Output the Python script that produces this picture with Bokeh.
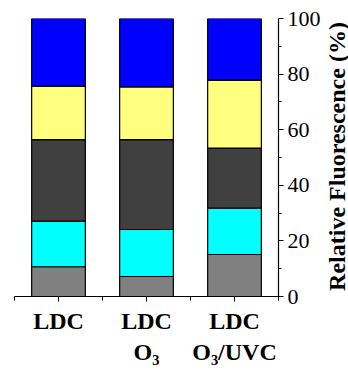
import math
from bokeh.plotting import figure
from bokeh.layouts import row
from bokeh.models import ColumnDataSource, LinearAxis, FixedTicker, Range1d, Label
from bokeh.embed import file_html
from bokeh.resources import INLINE

categories = ["LDC", "LDC\nO\u2083", "LDC\nO\u2083/UVC"]
positions = [0.5, 1.5, 2.5]
comp1 = [10.7, 7.2, 15.1]   # gray
comp2 = [16.4, 16.9, 16.7]  # cyan
comp3 = [29.3, 32.3, 21.6]  # dark gray
comp4 = [19.3, 19.0, 24.4]  # yellow
comp5 = [24.3, 24.6, 22.2]  # blue
colors = ["#808080", "#00FFFF", "#404040", "#FFFF80", "#0000FF"]
stack_names = ["c1", "c2", "c3", "c4", "c5"]
y_ticks = [0, 20, 40, 60, 80, 100]
y_minor = [10, 30, 50, 70, 90]
y_title = "Relative Fluorescence (%)"

src = ColumnDataSource(dict(x=positions, c1=comp1, c2=comp2, c3=comp3, c4=comp4, c5=comp5))

p = figure(frame_width=264, frame_height=278, output_backend="svg", toolbar_location=None,
           x_range=Range1d(0, 3), y_range=Range1d(0, 100),
           min_border_left=14, min_border_top=18, min_border_right=44, min_border_bottom=4,
           x_axis_location=None, y_axis_location=None)
p.outline_line_color = None
p.grid.visible = False
p.background_fill_color = "white"

p.vbar_stack(stack_names, x="x", width=0.61, source=src, color=colors,
             line_color="black", line_width=1.2)

xa = LinearAxis(ticker=FixedTicker(ticks=positions, minor_ticks=[0, 1, 2, 3]))
xa.major_label_overrides = {pos: lab for pos, lab in zip(positions, categories)}
xa.major_label_text_font = "Liberation Serif"
xa.major_label_text_font_style = "bold"
xa.major_label_text_font_size = "24px"
xa.major_label_text_color = "black"
xa.major_label_standoff = 6
xa.major_tick_in = 0
xa.major_tick_out = 5
xa.minor_tick_in = 0
xa.minor_tick_out = 4
xa.axis_line_color = "black"
xa.axis_line_width = 1.2
p.add_layout(xa, "below")

ya = LinearAxis(ticker=FixedTicker(ticks=y_ticks, minor_ticks=y_minor))
ya.major_label_text_font = "Liberation Serif"
ya.major_label_text_font_size = "22px"
ya.major_label_text_color = "black"
ya.major_label_standoff = 4
ya.major_tick_in = 0
ya.major_tick_out = 5
ya.minor_tick_in = 0
ya.minor_tick_out = 3
ya.axis_line_color = "black"
ya.axis_line_width = 1.2
p.add_layout(ya, "right")

# narrow companion figure that holds the rotated y-axis title (reads bottom to top)
p2 = figure(frame_width=26, frame_height=278, output_backend="svg", toolbar_location=None,
            x_range=Range1d(0, 1), y_range=Range1d(0, 100),
            min_border_left=0, min_border_right=0, min_border_top=18, min_border_bottom=0,
            x_axis_location=None, y_axis_location=None)
p2.outline_line_color = None
p2.grid.visible = False
title = Label(x=0.5, y=50, y_offset=1, text=y_title,
              angle=math.pi / 2, angle_units="rad", text_align="center",
              text_baseline="middle", text_font="Liberation Serif",
              text_font_style="bold", text_font_size="24px", text_color="black")
p2.add_layout(title)

layout = row(p, p2)
open("out.html", "w").write(file_html(layout, INLINE))
